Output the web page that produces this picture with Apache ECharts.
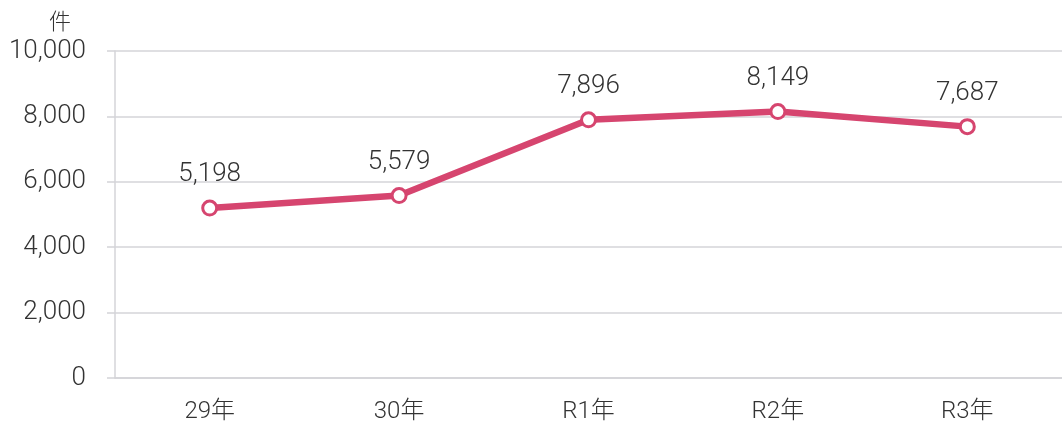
<!DOCTYPE html>
<html><head><meta charset="utf-8">
<script src="https://cdn.jsdelivr.net/npm/echarts@6/dist/echarts.min.js"></script>
<style>html,body{margin:0;padding:0;background:#fff}#c{width:1062px;height:426px}</style>
</head><body><div id="c"></div>
<script>
const categories = ['29年', '30年', 'R1年', 'R2年', 'R3年'];
const values = [5198, 5579, 7896, 8149, 7687];
const unitLabel = '件';
const yTicks = { min: 0, max: 10000, interval: 2000 };

const font = "Roboto, 'Noto Sans CJK JP', sans-serif";
const chart = echarts.init(document.getElementById('c'));
chart.setOption({
  animation: false,
  grid: { left: 115, width: 954, top: 51, bottom: 48 },
  graphic: [{ type: 'text', left: 49, top: 12, style: { text: unitLabel, font: '300 22px ' + font, fill: '#333' } }],
  xAxis: {
    type: 'category', data: categories,
    axisLine: { lineStyle: { color: '#d4d4d8', width: 1.5 } },
    axisTick: { show: false },
    axisLabel: { color: '#333', fontSize: 24, fontWeight: 300, fontFamily: font, margin: 22 }
  },
  yAxis: {
    type: 'value', min: yTicks.min, max: yTicks.max, interval: yTicks.interval,
    axisLine: { show: true, lineStyle: { color: '#d4d4d8', width: 1.5 } },
    axisTick: { show: true, length: 8, lineStyle: { color: '#d4d4d8', width: 1.5 } },
    splitLine: { lineStyle: { color: '#d4d4d8', width: 1.5 } },
    axisLabel: { color: '#333', fontSize: 26, fontWeight: 300, fontFamily: font, margin: 29,
      formatter: v => v.toLocaleString('en-US') }
  },
  series: [{
    type: 'line', data: values,
    lineStyle: { color: '#d6456f', width: 6.5 },
    symbol: 'circle', symbolSize: 14,
    itemStyle: { color: '#fff', borderColor: '#d6456f', borderWidth: 3 },
    label: { show: true, position: 'top', distance: 12, color: '#333', fontSize: 26, fontWeight: 300, fontFamily: font,
      formatter: p => p.value.toLocaleString('en-US') }
  }]
});
</script></body></html>
